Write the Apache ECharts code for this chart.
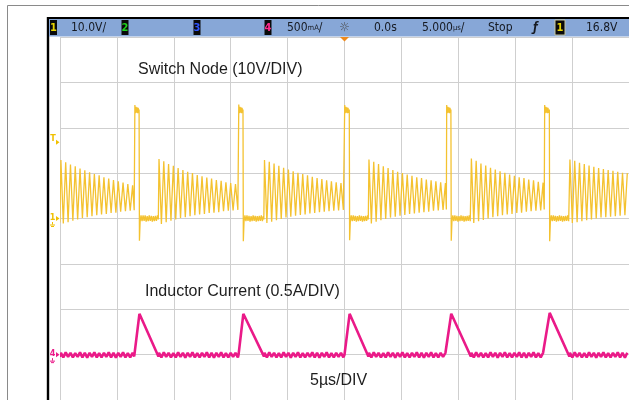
<!DOCTYPE html>
<html><head><meta charset="utf-8">
<script src="https://cdn.jsdelivr.net/npm/echarts@6/dist/echarts.min.js"></script>
<style>html,body{margin:0;padding:0;background:#fff}#c{width:629px;height:400px}</style>
</head><body><div id="c"></div>
<script>
// ---- scope settings / labels ----
const timePerDivUs = 5;          // 5 µs/div, 10 divisions, trigger at centre
const voltsPerDiv = 10;          // CH1 10 V/div
const ampsPerDiv = 0.5;          // CH4 500 mA/div
const triggerLevelV = 16.8;
const headerTexts = ['10.0V/', '500', 'mA', '/', '0.0s', '5.000', 'µs', '/', 'Stop', '16.8V'];
const annotations = ['Switch Node (10V/DIV)', 'Inductor Current (0.5A/DIV)', '5µs/DIV'];

// ---- waveform: [time µs, switch node V, inductor current A] during ringing ----
const ringPre = [
[-25.02,-0.9,-0.025],[-24.92,12.9,0.02],[-24.71,-1.1,-0.03],[-24.50,12.4,0.025],[-24.29,-0.8,-0.025],[-24.08,11.9,0.02],[-23.87,-0.5,-0.03],[-23.66,11.5,0.015],[-23.45,-0.2,-0.025],[-23.24,11.0,0.025],[-23.03,0.1,-0.03],[-22.82,10.6,0.02],[-22.61,0.3,-0.035],[-22.40,10.2,0.02],[-22.19,0.5,-0.025],[-21.98,9.8,0.025],[-21.77,0.7,-0.03],[-21.56,9.5,0.015],[-21.35,0.9,-0.03],[-21.14,9.1,0.02],[-20.93,1.0,-0.025],[-20.72,8.8,0.025],[-20.51,1.2,-0.03],[-20.30,8.5,0.02],[-20.09,1.3,-0.035],[-19.88,8.2,0.02],[-19.67,1.5,-0.025],[-19.46,7.9,0.025],[-19.25,1.6,-0.03],[-19.04,7.6,0.015],[-18.83,1.7,-0.03],[-18.62,7.3,0.02],[-18.48,1.8,-0.02]];
const ringA = [
[-16.30,13.1,0.02],[-16.09,-1.2,-0.03],[-15.88,12.6,0.025],[-15.67,-0.8,-0.025],[-15.46,12.0,0.02],[-15.25,-0.5,-0.03],[-15.04,11.6,0.015],[-14.83,-0.2,-0.03],[-14.62,11.1,0.025],[-14.41,0.1,-0.025],[-14.20,10.7,0.02],[-13.99,0.3,-0.035],[-13.78,10.3,0.02],[-13.57,0.5,-0.025],[-13.36,10.0,0.025],[-13.15,0.7,-0.03],[-12.94,9.6,0.015],[-12.73,0.9,-0.03],[-12.52,9.3,0.02],[-12.31,1.0,-0.025],[-12.10,9.0,0.025],[-11.89,1.2,-0.03],[-11.68,8.8,0.02],[-11.47,1.3,-0.035],[-11.26,8.5,0.02],[-11.05,1.4,-0.025],[-10.84,8.3,0.025],[-10.63,1.6,-0.03],[-10.42,8.0,0.015],[-10.21,1.7,-0.03],[-10.00,7.8,0.02],[-9.79,1.8,-0.025],[-9.58,7.6,0.02],[-9.37,1.9,-0.03]];
const ringB = [
[-7.03,12.9,0.02],[-6.82,-1.0,-0.03],[-6.61,12.5,0.025],[-6.40,-0.7,-0.025],[-6.19,12.1,0.02],[-5.98,-0.4,-0.03],[-5.77,11.6,0.015],[-5.56,-0.1,-0.03],[-5.35,11.2,0.025],[-5.14,0.2,-0.025],[-4.93,10.8,0.02],[-4.72,0.4,-0.035],[-4.51,10.4,0.02],[-4.30,0.6,-0.025],[-4.09,10.1,0.025],[-3.88,0.8,-0.03],[-3.67,9.8,0.015],[-3.46,0.9,-0.03],[-3.25,9.5,0.02],[-3.04,1.1,-0.025],[-2.83,9.2,0.025],[-2.62,1.2,-0.03],[-2.41,8.9,0.02],[-2.20,1.4,-0.035],[-1.99,8.7,0.02],[-1.78,1.5,-0.025],[-1.57,8.4,0.025],[-1.36,1.6,-0.03],[-1.15,8.2,0.015],[-0.94,1.7,-0.03],[-0.73,8.0,0.02],[-0.52,1.8,-0.025],[-0.31,7.8,0.02],[-0.10,1.9,-0.03]];
const ringC = [
[2.15,13.0,0.02],[2.36,-1.1,-0.03],[2.57,12.5,0.025],[2.78,-0.7,-0.025],[2.99,12.0,0.02],[3.20,-0.4,-0.03],[3.41,11.5,0.015],[3.62,-0.1,-0.03],[3.83,11.1,0.025],[4.04,0.2,-0.025],[4.25,10.7,0.02],[4.46,0.4,-0.035],[4.67,10.3,0.02],[4.88,0.6,-0.025],[5.09,10.0,0.025],[5.30,0.8,-0.03],[5.51,9.7,0.015],[5.72,1.0,-0.03],[5.93,9.4,0.02],[6.14,1.1,-0.025],[6.35,9.1,0.025],[6.56,1.3,-0.03],[6.77,8.9,0.02],[6.98,1.4,-0.035],[7.19,8.6,0.02],[7.40,1.5,-0.025],[7.61,8.4,0.025],[7.82,1.7,-0.03],[8.03,8.2,0.015],[8.24,1.8,-0.03],[8.45,8.0,0.02],[8.66,1.9,-0.025],[8.87,7.8,0.02]];
const ringD = [
[11.15,13.2,0.02],[11.36,-1.0,-0.03],[11.57,12.7,0.025],[11.78,-0.6,-0.025],[11.99,12.1,0.02],[12.20,-0.3,-0.03],[12.41,11.7,0.015],[12.62,0.0,-0.03],[12.83,11.2,0.025],[13.04,0.3,-0.025],[13.25,10.8,0.02],[13.46,0.5,-0.035],[13.67,10.4,0.02],[13.88,0.7,-0.025],[14.09,10.1,0.025],[14.30,0.9,-0.03],[14.51,9.7,0.015],[14.72,1.0,-0.03],[14.93,9.4,0.02],[15.14,1.2,-0.025],[15.35,9.1,0.025],[15.56,1.3,-0.03],[15.77,8.9,0.02],[15.98,1.5,-0.035],[16.19,8.6,0.02],[16.40,1.6,-0.025],[16.61,8.4,0.025],[16.82,1.7,-0.03],[17.03,8.1,0.015],[17.24,1.8,-0.03],[17.45,7.9,0.02]];
const ringE = [
[19.81,13.0,0.02],[20.02,-1.0,-0.03],[20.23,12.7,0.025],[20.44,-0.8,-0.025],[20.65,12.3,0.02],[20.86,-0.6,-0.03],[21.07,12.0,0.015],[21.28,-0.4,-0.03],[21.49,11.7,0.025],[21.70,-0.2,-0.025],[21.91,11.4,0.02],[22.12,0.0,-0.035],[22.33,11.1,0.02],[22.54,0.2,-0.025],[22.75,10.9,0.025],[22.96,0.3,-0.03],[23.17,10.7,0.015],[23.38,0.4,-0.03],[23.59,10.5,0.02],[23.80,0.5,-0.025],[24.01,10.3,0.025],[24.22,0.6,-0.03],[24.43,10.1,0.02],[24.64,0.7,-0.035],[24.85,10.0,0.02]];

// ---- switch node: high pulse, undershoot, clamp near 0 V  [time µs, V] ----
const spikeA = [[-18.44,2.0],[-18.42,25.0],[-18.38,23.2],[-18.33,24.6],[-18.28,23.3],[-18.23,24.5],[-18.18,23.2],[-18.13,24.4],[-18.08,23.3],[-18.05,24.0],[-18.02,-4.9],[-17.96,-0.7],[-17.88,0.7],[-17.79,-0.6],[-17.70,0.7],[-17.61,-0.5],[-17.52,0.7],[-17.43,-0.7],[-17.34,0.5],[-17.25,-0.6],[-17.16,0.7],[-17.07,-0.5],[-16.98,0.6],[-16.89,-0.7],[-16.80,0.5],[-16.71,-0.6],[-16.62,0.6],[-16.53,-0.5],[-16.44,0.7],[-16.36,-0.2]];
const spikeB = [[-9.31,2.0],[-9.29,25.1],[-9.25,23.2],[-9.20,24.6],[-9.15,23.3],[-9.10,24.5],[-9.05,23.2],[-9.00,24.4],[-8.95,23.3],[-8.92,24.0],[-8.89,-5.0],[-8.83,-0.7],[-8.75,0.7],[-8.66,-0.6],[-8.57,0.7],[-8.48,-0.5],[-8.39,0.6],[-8.30,-0.7],[-8.21,0.5],[-8.12,-0.6],[-8.03,0.7],[-7.94,-0.5],[-7.85,0.6],[-7.76,-0.7],[-7.67,0.5],[-7.58,-0.6],[-7.49,0.6],[-7.40,-0.5],[-7.31,0.7],[-7.22,-0.6],[-7.13,0.5],[-7.09,-0.2]];
const spikeC = [[0.00,2.0],[0.02,25.0],[0.06,23.2],[0.11,24.6],[0.16,23.3],[0.21,24.5],[0.26,23.2],[0.31,24.4],[0.36,23.3],[0.42,24.0],[0.45,-4.8],[0.51,-0.7],[0.59,0.7],[0.68,-0.6],[0.77,0.7],[0.86,-0.5],[0.95,0.6],[1.04,-0.7],[1.13,0.5],[1.22,-0.6],[1.31,0.7],[1.40,-0.5],[1.49,0.6],[1.58,-0.7],[1.67,0.5],[1.76,-0.6],[1.85,0.6],[1.94,-0.5],[2.03,0.7],[2.09,-0.2]];
const spikeD = [[8.95,2.0],[8.98,25.0],[9.02,23.2],[9.07,24.6],[9.12,23.3],[9.17,24.5],[9.22,23.2],[9.27,24.4],[9.32,23.3],[9.35,24.0],[9.38,-4.9],[9.44,-0.7],[9.52,0.7],[9.61,-0.6],[9.70,0.7],[9.79,-0.5],[9.88,0.6],[9.97,-0.7],[10.06,0.5],[10.15,-0.6],[10.24,0.7],[10.33,-0.5],[10.42,0.6],[10.51,-0.7],[10.60,0.5],[10.69,-0.6],[10.78,0.6],[10.87,-0.5],[10.96,0.7],[11.05,-0.6],[11.09,-0.2]];
const spikeE = [[17.55,2.0],[17.59,25.0],[17.63,23.2],[17.68,24.6],[17.73,23.3],[17.78,24.5],[17.83,23.2],[17.88,24.4],[17.94,23.3],[18.00,24.0],[18.03,-5.0],[18.09,-0.7],[18.17,0.7],[18.26,-0.6],[18.35,0.7],[18.44,-0.5],[18.53,0.6],[18.62,-0.7],[18.71,0.5],[18.80,-0.6],[18.89,0.7],[18.98,-0.5],[19.07,0.6],[19.16,-0.7],[19.25,0.5],[19.34,-0.6],[19.43,0.6],[19.52,-0.5],[19.61,0.7],[19.70,-0.6],[19.75,-0.2]];

// ---- inductor current triangles [time µs, A] ----
const rampA = [[-18.44,0.0],[-18.02,0.45],[-16.35,-0.02]];
const rampB = [[-9.31,0.0],[-8.89,0.45],[-7.08,-0.02]];
const rampC = [[0.00,0.0],[0.45,0.45],[2.10,-0.02]];
const rampD = [[8.96,0.0],[9.38,0.45],[11.10,-0.02]];
const rampE = [[17.57,0.0],[18.03,0.46],[19.76,-0.02]];

// ---- assemble series ----
const ringSegs = [ringPre, ringA, ringB, ringC, ringD, ringE];
const spikeSegs = [spikeA, spikeB, spikeC, spikeD, spikeE];
const rampSegs = [rampA, rampB, rampC, rampD, rampE];
const swData = [], ilData = [];
ringSegs.forEach((seg, k) => {
  seg.forEach(p => { swData.push([p[0], p[1]]); ilData.push([p[0], p[2]]); });
  if (k < spikeSegs.length) {
    spikeSegs[k].forEach(p => swData.push(p));
    rampSegs[k].forEach(p => ilData.push(p));
  }
});

const chart = echarts.init(document.getElementById('c'), null, {renderer: 'canvas'});
const hidden = {axisLine:{show:false}, axisTick:{show:false}, axisLabel:{show:false}};
const gridLine = {show:true, lineStyle:{color:'#cfcfcf', width:1}};
chart.setOption({
  animation: false,
  backgroundColor: '#ffffff',
  grid: {left: 60, top: 37, width: 572, height: 365, containLabel: false},
  xAxis: Object.assign({type:'value', min:-5*timePerDivUs, max:5*timePerDivUs, interval:timePerDivUs, splitLine:gridLine}, hidden),
  yAxis: [
    Object.assign({type:'value', min:-4*voltsPerDiv, max:4*voltsPerDiv, interval:voltsPerDiv, splitLine:gridLine}, hidden),
    Object.assign({type:'value', min:-1*ampsPerDiv, max:7*ampsPerDiv, interval:ampsPerDiv, splitLine:{show:false}}, hidden)
  ],
  series: [
    {name:'Switch Node', type:'line', yAxisIndex:0, data: swData, showSymbol:false, symbol:'none', silent:true,
     lineStyle:{color:'#f4c230', width:1.3}, z:3},
    {name:'Inductor Current', type:'line', yAxisIndex:1, data: ilData, showSymbol:false, symbol:'none', silent:true,
     lineStyle:{color:'#ea1a88', width:2.6}, z:4}
  ]
});

// ---- decorations positioned through the axes ----
const xTrig = chart.convertToPixel({xAxisIndex:0}, 0);
const yTrigLvl = chart.convertToPixel({yAxisIndex:0}, triggerLevelV);
const yGnd1 = chart.convertToPixel({yAxisIndex:0}, 0);
const yGnd4 = chart.convertToPixel({yAxisIndex:1}, 0);

const HF = '"DejaVu Sans Condensed","Liberation Sans Narrow","DejaVu Sans",sans-serif';
const AF = '"Liberation Sans",Arial,Helvetica,sans-serif';
const hy = 28;
function txt(x, y, s, font, fill, align, extra) {
  return Object.assign({type:'text', x:x, y:y, z:20, silent:true,
    style:{text:s, font:font, fill:fill, align:align||'left', textAlign:align||'left', verticalAlign:'middle', textVerticalAlign:'middle'}}, extra||{});
}
function box(x, w, digit, col, stroke) {
  return [
    {type:'rect', z:19, silent:true, shape:{x:x, y:20, width:w, height:15}, style:{fill:'#0a0a0a', stroke:stroke||null, lineWidth:stroke?1:0}},
    txt(x + w/2, hy, digit, 'bold 11px ' + HF, col, 'center')
  ];
}
function chMarker(y, label, col) {
  return [
    txt(52.5, y - 1, label, 'bold 9px ' + HF, col, 'center'),
    {type:'polygon', z:20, silent:true, shape:{points:[[56,y-2.6],[59.5,y],[56,y+2.6]]}, style:{fill:col}},
    {type:'line', z:20, silent:true, shape:{x1:52.5,y1:y+3.5,x2:52.5,y2:y+6}, style:{stroke:col, lineWidth:1}},
    {type:'line', z:20, silent:true, shape:{x1:50,y1:y+6.5,x2:55,y2:y+6.5}, style:{stroke:col, lineWidth:1}},
    {type:'line', z:20, silent:true, shape:{x1:51,y1:y+8,x2:54,y2:y+8}, style:{stroke:col, lineWidth:1}}
  ];
}
const hdrFont = '12px ' + HF;
const g = [
  // outer frame
  {type:'line', z:18, silent:true, shape:{x1:7.5,y1:5.5,x2:629,y2:5.5}, style:{stroke:'#8a8a8a', lineWidth:1}},
  {type:'line', z:18, silent:true, shape:{x1:7.5,y1:5.5,x2:7.5,y2:400}, style:{stroke:'#8a8a8a', lineWidth:1}},
  // left white strip + black bezel
  {type:'rect', z:17, silent:true, shape:{x:49, y:19, width:11, height:381}, style:{fill:'#ffffff'}},
  {type:'line', z:18, silent:true, shape:{x1:48,y1:17,x2:48,y2:400}, style:{stroke:'#000', lineWidth:2.4}},
  {type:'line', z:18, silent:true, shape:{x1:47,y1:18,x2:629,y2:18}, style:{stroke:'#000', lineWidth:2}},
  // header bar
  {type:'rect', z:18, silent:true, shape:{x:49, y:19, width:580, height:17.5}, style:{fill:'#87a7d7'}},
  ...box(50, 7, '1', '#e8d400'),
  ...box(121.5, 7, '2', '#1fd21f'),
  ...box(193.5, 7, '3', '#2f55ff'),
  ...box(264.5, 7, '4', '#ff2a8c'),
  ...box(555, 10, '1', '#e8d400', '#c8c8a0'),
  txt(71, hy, headerTexts[0], hdrFont, '#161a22'),
  {type:'text', x:287, y:hy, z:20, silent:true, style:{text:'{a|' + headerTexts[1] + '}{b|' + headerTexts[2] + '}{a|' + headerTexts[3] + '}', fill:'#161a22', verticalAlign:'middle', textVerticalAlign:'middle',
    rich:{a:{font:hdrFont, fill:'#161a22'}, b:{font:'7.5px ' + HF, fill:'#161a22'}}}},
  txt(xTrig, hy, '☼', '12px "DejaVu Sans",sans-serif', '#4a4a4a', 'center'),
  txt(374, hy, headerTexts[4], hdrFont, '#161a22'),
  {type:'text', x:422, y:hy, z:20, silent:true, style:{text:'{a|' + headerTexts[5] + '}{b|' + headerTexts[6] + '}{a|' + headerTexts[7] + '}', fill:'#161a22', verticalAlign:'middle', textVerticalAlign:'middle',
    rich:{a:{font:hdrFont, fill:'#161a22'}, b:{font:'7.5px ' + HF, fill:'#161a22'}}}},
  txt(488, hy, headerTexts[8], hdrFont, '#161a22'),
  txt(533, hy, 'ƒ', 'bold italic 12px ' + HF, '#161a22'),
  txt(586, hy, headerTexts[9], hdrFont, '#161a22'),
  // trigger position marker
  {type:'polygon', z:20, silent:true, shape:{points:[[xTrig-4.5,37],[xTrig+4.5,37],[xTrig,41.5]]}, style:{fill:'#f08a1c'}},
  // trigger level marker
  txt(53, yTrigLvl - 4, 'T', 'bold 9px ' + HF, '#f0c000', 'center'),
  {type:'polygon', z:20, silent:true, shape:{points:[[56,yTrigLvl-2.6],[59.5,yTrigLvl],[56,yTrigLvl+2.6]]}, style:{fill:'#f0c000'}},
  ...chMarker(yGnd1, '1', '#f0c000'),
  ...chMarker(yGnd4, '4', '#ea1a88'),
  // annotations
  txt(138, 70, annotations[0], '16px ' + AF, '#1e1e1e'),
  txt(145, 292, annotations[1], '16px ' + AF, '#1e1e1e'),
  txt(310, 381, annotations[2], '16px ' + AF, '#1e1e1e')
];
chart.setOption({graphic: {elements: g}});
</script></body></html>
